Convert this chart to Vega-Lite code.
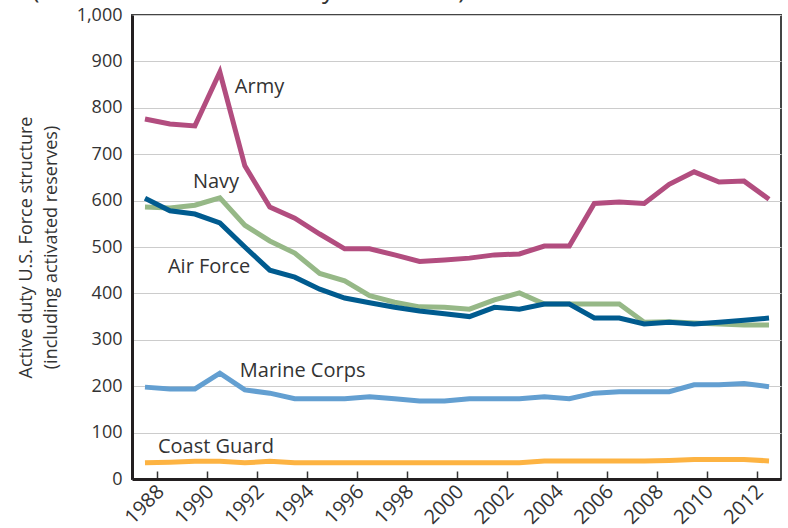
{
  "$schema": "https://vega.github.io/schema/vega-lite/v6.json",
  "autosize": {"type": "none"},
  "width": 649,
  "height": 464,
  "padding": {"left": 132, "top": 15, "right": 7, "bottom": 49},
  "background": "white",
  "config": {
    "font": "Open Sans",
    "view": {"stroke": "#444", "strokeWidth": 2},
    "axis": {"labelFont": "Open Sans", "titleFont": "Open Sans", "labelColor": "#333", "titleColor": "#333"}
  },
  "title": {
    "text": "(Thousands of Active Duty Personnel)",
    "anchor": "start",
    "frame": "group",
    "dx": -100,
    "offset": 3,
    "fontSize": 25,
    "fontWeight": "normal",
    "color": "#333",
    "font": "Open Sans"
  },
  "data": {
    "values": [
      {"year": 1988, "Army": 776, "Navy": 586, "Air Force": 605, "Marine Corps": 198, "Coast Guard": 35},
      {"year": 1989, "Army": 765, "Navy": 584, "Air Force": 578, "Marine Corps": 194, "Coast Guard": 36},
      {"year": 1990, "Army": 761, "Navy": 590, "Air Force": 571, "Marine Corps": 194, "Coast Guard": 38},
      {"year": 1991, "Army": 877, "Navy": 606, "Air Force": 552, "Marine Corps": 228, "Coast Guard": 38},
      {"year": 1992, "Army": 675, "Navy": 547, "Air Force": 500, "Marine Corps": 192, "Coast Guard": 35},
      {"year": 1993, "Army": 586, "Navy": 513, "Air Force": 450, "Marine Corps": 185, "Coast Guard": 38},
      {"year": 1994, "Army": 562, "Navy": 487, "Air Force": 435, "Marine Corps": 173, "Coast Guard": 35},
      {"year": 1995, "Army": 528, "Navy": 443, "Air Force": 409, "Marine Corps": 173, "Coast Guard": 35},
      {"year": 1996, "Army": 496, "Navy": 427, "Air Force": 390, "Marine Corps": 173, "Coast Guard": 35},
      {"year": 1997, "Army": 496, "Navy": 395, "Air Force": 380, "Marine Corps": 177, "Coast Guard": 35},
      {"year": 1998, "Army": 483, "Navy": 381, "Air Force": 370, "Marine Corps": 173, "Coast Guard": 35},
      {"year": 1999, "Army": 469, "Navy": 371, "Air Force": 362, "Marine Corps": 168, "Coast Guard": 35},
      {"year": 2000, "Army": 472, "Navy": 370, "Air Force": 356, "Marine Corps": 168, "Coast Guard": 35},
      {"year": 2001, "Army": 476, "Navy": 366, "Air Force": 350, "Marine Corps": 173, "Coast Guard": 35},
      {"year": 2002, "Army": 483, "Navy": 386, "Air Force": 370, "Marine Corps": 173, "Coast Guard": 35},
      {"year": 2003, "Army": 485, "Navy": 401, "Air Force": 366, "Marine Corps": 173, "Coast Guard": 35},
      {"year": 2004, "Army": 502, "Navy": 377, "Air Force": 377, "Marine Corps": 177, "Coast Guard": 39},
      {"year": 2005, "Army": 502, "Navy": 377, "Air Force": 377, "Marine Corps": 173, "Coast Guard": 39},
      {"year": 2006, "Army": 594, "Navy": 377, "Air Force": 347, "Marine Corps": 185, "Coast Guard": 39},
      {"year": 2007, "Army": 597, "Navy": 377, "Air Force": 347, "Marine Corps": 188, "Coast Guard": 39},
      {"year": 2008, "Army": 594, "Navy": 338, "Air Force": 334, "Marine Corps": 188, "Coast Guard": 39},
      {"year": 2009, "Army": 635, "Navy": 339, "Air Force": 338, "Marine Corps": 188, "Coast Guard": 40},
      {"year": 2010, "Army": 662, "Navy": 336, "Air Force": 334, "Marine Corps": 203, "Coast Guard": 42},
      {"year": 2011, "Army": 640, "Navy": 334, "Air Force": 338, "Marine Corps": 203, "Coast Guard": 42},
      {"year": 2012, "Army": 642, "Navy": 332, "Air Force": 342, "Marine Corps": 206, "Coast Guard": 42},
      {"year": 2013, "Army": 603, "Navy": 332, "Air Force": 347, "Marine Corps": 199, "Coast Guard": 39}
    ]
  },
  "layer": [
    {
      "transform": [
        {"fold": ["Coast Guard", "Marine Corps", "Navy", "Air Force", "Army"], "as": ["service", "value"]}
      ],
      "mark": {"type": "line", "strokeWidth": 5, "strokeJoin": "miter", "strokeCap": "butt"},
      "encoding": {
        "x": {
          "field": "year",
          "type": "quantitative",
          "scale": {"domain": [1987.48, 2013.48], "nice": false, "zero": false},
          "axis": {
            "title": null,
            "values": [1988.5, 1989.5, 1990.5, 1991.5, 1992.5, 1993.5, 1994.5, 1995.5, 1996.5, 1997.5, 1998.5, 1999.5, 2000.5, 2001.5, 2002.5, 2003.5, 2004.5, 2005.5, 2006.5, 2007.5, 2008.5, 2009.5, 2010.5, 2011.5, 2012.5],
            "labelExpr": "floor(datum.value) % 2 == 0 ? '' + floor(datum.value) : ''",
            "labelAngle": -45,
            "labelAlign": "right",
            "labelBaseline": "top",
            "labelFontSize": 20,
            "labelOverlap": false,
            "labelPadding": 10,
            "labelOffset": -4,
            "tickSize": -8,
            "tickColor": "#333",
            "tickWidth": 1.5,
            "domainColor": "#231f20",
            "domainWidth": 3,
            "grid": false
          }
        },
        "y": {
          "field": "value",
          "type": "quantitative",
          "scale": {"domain": [0, 1000], "nice": false},
          "axis": {
            "title": ["Active duty U.S. Force structure", "(including activated reserves)"],
            "titleFontSize": 18,
            "titleFontWeight": "normal",
            "titleLineHeight": 25,
            "titlePadding": 16,
            "values": [0, 100, 200, 300, 400, 500, 600, 700, 800, 900, 1000],
            "format": ",d",
            "labelFontSize": 18,
            "labelPadding": 10,
            "ticks": false,
            "domainColor": "#231f20",
            "domainWidth": 3,
            "grid": true,
            "gridColor": "#cccccc",
            "gridWidth": 1.2
          }
        },
        "color": {
          "field": "service",
          "type": "nominal",
          "scale": {
            "domain": ["Coast Guard", "Marine Corps", "Navy", "Air Force", "Army"],
            "range": ["#fdb342", "#639fd1", "#96b887", "#005b8f", "#b24d7f"]
          },
          "legend": null
        }
      }
    },
    {
      "data": {
        "values": [
          {"label": "Army", "year": 1991.6, "value": 832},
          {"label": "Navy", "year": 1989.92, "value": 627},
          {"label": "Air Force", "year": 1988.92, "value": 444},
          {"label": "Marine Corps", "year": 1991.8, "value": 220},
          {"label": "Coast Guard", "year": 1988.52, "value": 56}
        ]
      },
      "mark": {"type": "text", "align": "left", "baseline": "alphabetic", "fontSize": 20, "color": "#333", "font": "Open Sans"},
      "encoding": {
        "x": {"field": "year", "type": "quantitative"},
        "y": {"field": "value", "type": "quantitative"},
        "text": {"field": "label"}
      }
    }
  ]
}
